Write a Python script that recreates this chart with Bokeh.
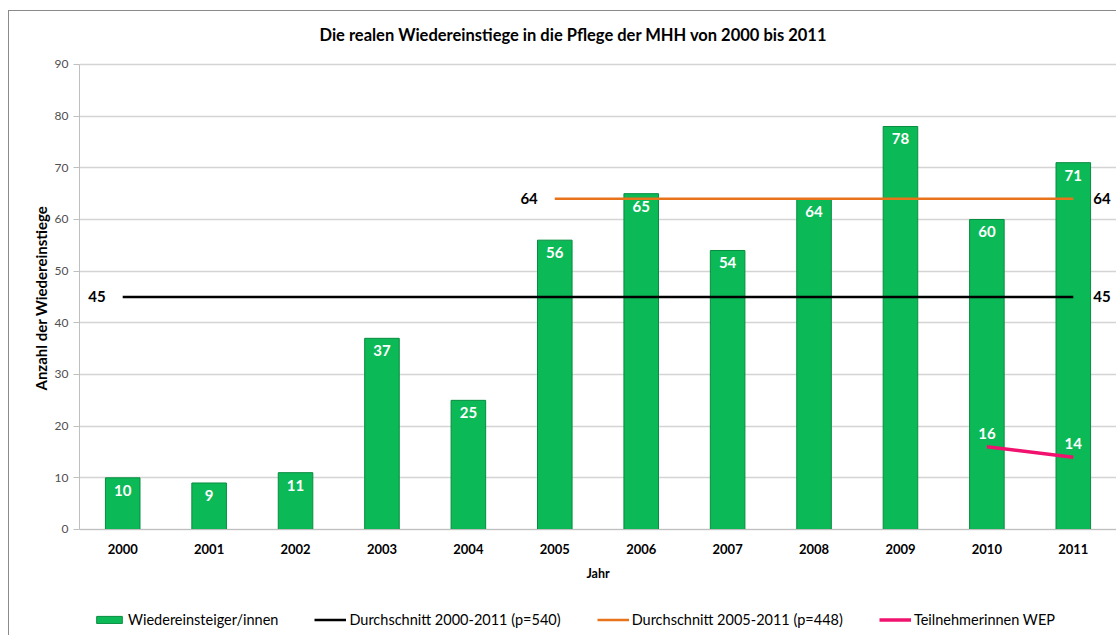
from bokeh.plotting import figure
from bokeh.models import (ColumnDataSource, FactorRange, Legend, LegendItem,
                          FixedTicker, Range1d, Title)
from bokeh.core.properties import value
from bokeh.embed import file_html
from bokeh.resources import INLINE

years = ["2000", "2001", "2002", "2003", "2004", "2005",
         "2006", "2007", "2008", "2009", "2010", "2011"]
wiedereinstiege = [10, 9, 11, 37, 25, 56, 65, 54, 64, 78, 60, 71]
avg_all_years = ["2000", "2011"]
avg_all = [45, 45]
avg_late_years = ["2005", "2011"]
avg_late = [64, 64]
wep_years = ["2010", "2011"]
wep = [16, 14]
y_ticks = [0, 10, 20, 30, 40, 50, 60, 70, 80, 90]

title = "Die realen Wiedereinstiege in die Pflege der MHH von 2000 bis 2011"
y_title = "Anzahl der Wiedereinstiege"
FONT = "Lato"

# frame: 90 units over 465 px; extra room below 0 holds axis labels + legend
p = figure(x_range=FactorRange(*years), y_range=Range1d(-20.71, 91.74),
           width=1108, height=625, output_backend="svg", toolbar_location=None,
           min_border_left=70, min_border_right=1, min_border_top=0,
           min_border_bottom=0)
p.styles = {"border-left": "1px solid #8a8a8a", "border-top": "1px solid #8a8a8a",
            "margin-top": "10px", "margin-left": "8px"}
p.outline_line_color = None
p.background_fill_color = "white"
p.border_fill_color = "white"

p.title.text = title
p.title.align = "left"
p.title.offset = 240
p.title.text_font = FONT
p.title.text_font_style = "bold"
p.title.text_font_size = "16.5px"
p.title.text_color = "black"
p.title.standoff = 22

# y-axis title (left panel, placed along the 0..90 part of the axis)
p.add_layout(Title(text=y_title, align="left", offset=246,
                   text_font=FONT, text_font_style="bold",
                   text_font_size="15px", text_color="black",
                   standoff=4), "left")

# grid
p.xgrid.grid_line_color = None
p.ygrid.ticker = FixedTicker(ticks=y_ticks)
p.ygrid.grid_line_color = "#d4d4d4"
p.ygrid.grid_line_width = 1.5
p.ygrid.bounds = (0, 90)

# axes
p.yaxis.ticker = FixedTicker(ticks=y_ticks)
p.yaxis.bounds = (0, 90)
p.yaxis.minor_tick_line_color = None
p.yaxis.axis_line_color = "#bfbfbf"
p.yaxis.major_tick_line_color = "#bfbfbf"
p.yaxis.major_tick_in = 0
p.yaxis.major_tick_out = 6
p.yaxis.major_label_text_font = FONT
p.yaxis.major_label_text_font_size = "12px"
p.yaxis.major_label_text_color = "#505050"
p.yaxis.major_label_standoff = 5

p.xaxis.fixed_location = 0
p.xaxis.axis_line_color = "#bfbfbf"
p.xaxis.major_tick_line_color = None
p.xaxis.major_label_text_font = FONT
p.xaxis.major_label_text_font_style = "bold"
p.xaxis.major_label_text_font_size = "13px"
p.xaxis.major_label_text_color = "black"
p.xaxis.major_label_standoff = 9
p.xaxis.axis_label = "Jahr"
p.xaxis.axis_label_text_font = FONT
p.xaxis.axis_label_text_font_style = "bold"
p.xaxis.axis_label_text_font_size = "12.5px"
p.xaxis.axis_label_text_color = "black"
p.xaxis.axis_label_standoff = 8

# bars
src = ColumnDataSource(dict(x=years, top=wiedereinstiege,
                            lab=[str(v) for v in wiedereinstiege]))
bars = p.vbar(x="x", top="top", width=0.4, source=src,
              fill_color="#0cb957", line_color="#078c3f", line_width=1)
p.text(x="x", y="top", text="lab", source=src, text_align="center",
       text_baseline="top", y_offset=7, text_color="white",
       text_font=value(FONT), text_font_style="bold", text_font_size="15px")

# average lines
l_all = p.line(x=avg_all_years, y=avg_all, line_color="black", line_width=2.5)
l_late = p.line(x=avg_late_years, y=avg_late, line_color="#e8731a", line_width=2.5)
l_wep = p.line(x=wep_years, y=wep, line_color="#f0126e", line_width=3.5)

# line labels
lsrc = ColumnDataSource(dict(x=[avg_all_years[0], avg_late_years[0]],
                             y=[avg_all[0], avg_late[0]],
                             t=[str(avg_all[0]), str(avg_late[0])]))
p.text(x="x", y="y", text="t", source=lsrc, text_align="right",
       text_baseline="middle", x_offset=-17, text_color="black",
       text_font=value(FONT), text_font_style="bold", text_font_size="15px")
rsrc = ColumnDataSource(dict(x=[avg_all_years[1], avg_late_years[1]],
                             y=[avg_all[1], avg_late[1]],
                             t=[str(avg_all[1]), str(avg_late[1])]))
p.text(x="x", y="y", text="t", source=rsrc, text_align="left",
       text_baseline="middle", x_offset=20, text_color="black",
       text_font=value(FONT), text_font_style="bold", text_font_size="15px")
wsrc = ColumnDataSource(dict(x=wep_years, y=wep, t=[str(v) for v in wep]))
p.text(x="x", y="y", text="t", source=wsrc, text_align="center",
       text_baseline="bottom", y_offset=-8, text_color="white",
       text_font=value(FONT), text_font_style="bold", text_font_size="15px")

legend = Legend(items=[
    LegendItem(label="Wiedereinsteiger/innen", renderers=[bars]),
    LegendItem(label="Durchschnitt 2000-2011 (p=540)", renderers=[l_all]),
    LegendItem(label="Durchschnitt 2005-2011 (p=448)", renderers=[l_late]),
    LegendItem(label="Teilnehmerinnen WEP", renderers=[l_wep]),
], orientation="horizontal", location=(14, 8), spacing=36,
    glyph_width=32, glyph_height=9, label_standoff=3, padding=4,
    margin=0, label_text_font=FONT, label_text_font_size="14.5px",
    label_text_color="black", border_line_color=None,
    background_fill_alpha=0)
p.add_layout(legend, "center")

open("out.html", "w").write(file_html(p, INLINE))
